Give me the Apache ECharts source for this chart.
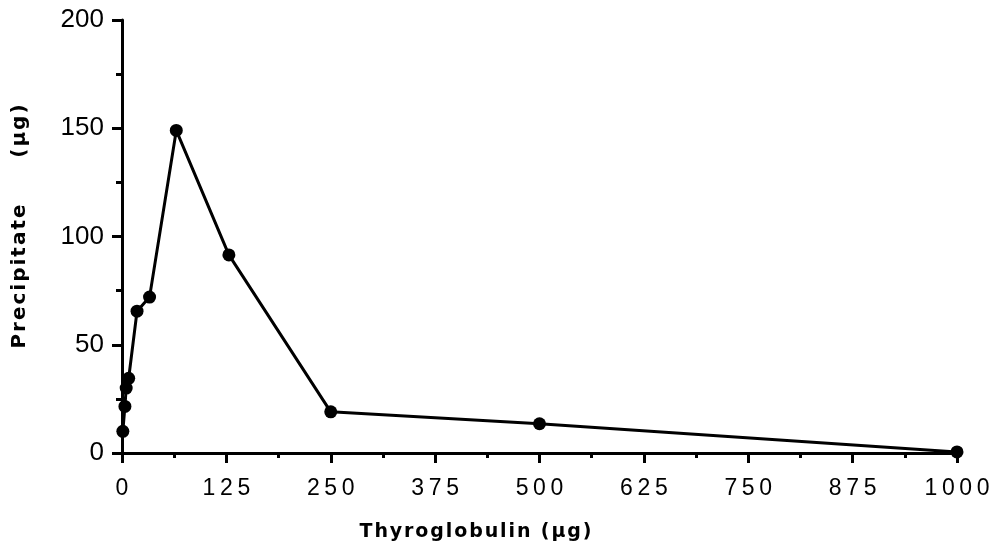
<!DOCTYPE html>
<html>
<head>
<meta charset="utf-8">
<script src="https://cdn.jsdelivr.net/npm/echarts@6/dist/echarts.min.js"></script>
<style>html,body{margin:0;padding:0;background:#fff}#c{width:1007px;height:547px}</style>
</head>
<body>
<div id="c"></div>
<script>
const thyroglobulin = [1, 3.5, 5, 8, 18, 33, 65, 128, 250, 500, 1000];
const precipitate = [10, 21.5, 30, 34.5, 65.5, 72, 149, 91.5, 19, 13.5, 0.5];
const xTitle = 'Thyroglobulin (\u00b5g)';
const yTitle = 'Precipitate     (\u00b5g)';

const chart = echarts.init(document.getElementById('c'), null, {renderer: 'canvas'});
const spaced = v => String(v).split('').join('\u2009');
const hair = s => s.split('').join('\u200a');
chart.setOption({
  backgroundColor: '#fff',
  animation: false,
  grid: {left: 122, right: 50, top: 20, bottom: 94, containLabel: false, outerBoundsMode: 'none'},
  xAxis: {
    type: 'value', min: 0, max: 1000, interval: 125,
    name: hair(xTitle), nameLocation: 'middle', nameGap: 70,
    nameTextStyle: {fontFamily: 'DejaVu Sans', fontWeight: 'bold', fontSize: 19, color: '#000', padding: [0, 128, 0, 0]},
    axisLine: {lineStyle: {color: '#000', width: 3}},
    axisTick: {inside: false, length: 10, lineStyle: {color: '#000', width: 3}},
    minorTick: {show: true, splitNumber: 2, length: 5, lineStyle: {color: '#000', width: 3}},
    axisLabel: {fontFamily: 'Liberation Sans, Arial', fontSize: 23, color: '#000', margin: 24, formatter: spaced},
    splitLine: {show: false}
  },
  yAxis: {
    type: 'value', min: 0, max: 200, interval: 50,
    name: hair(yTitle), nameLocation: 'middle', nameGap: 92,
    nameTextStyle: {fontFamily: 'DejaVu Sans', fontWeight: 'bold', fontSize: 20, color: '#000', padding: [0, 0, 0, 20]},
    axisLine: {lineStyle: {color: '#000', width: 3}},
    axisTick: {inside: false, length: 10, lineStyle: {color: '#000', width: 3}},
    minorTick: {show: true, splitNumber: 2, length: 6, lineStyle: {color: '#000', width: 3}},
    axisLabel: {fontFamily: 'Liberation Sans, Arial', fontSize: 26, color: '#000', margin: 18},
    splitLine: {show: false}
  },
  series: [{
    type: 'line',
    data: thyroglobulin.map((x, i) => [x, precipitate[i]]),
    lineStyle: {color: '#000', width: 3},
    itemStyle: {color: '#000'},
    symbol: 'circle', symbolSize: 13,
    showAllSymbol: true
  }]
});
</script>
</body>
</html>
